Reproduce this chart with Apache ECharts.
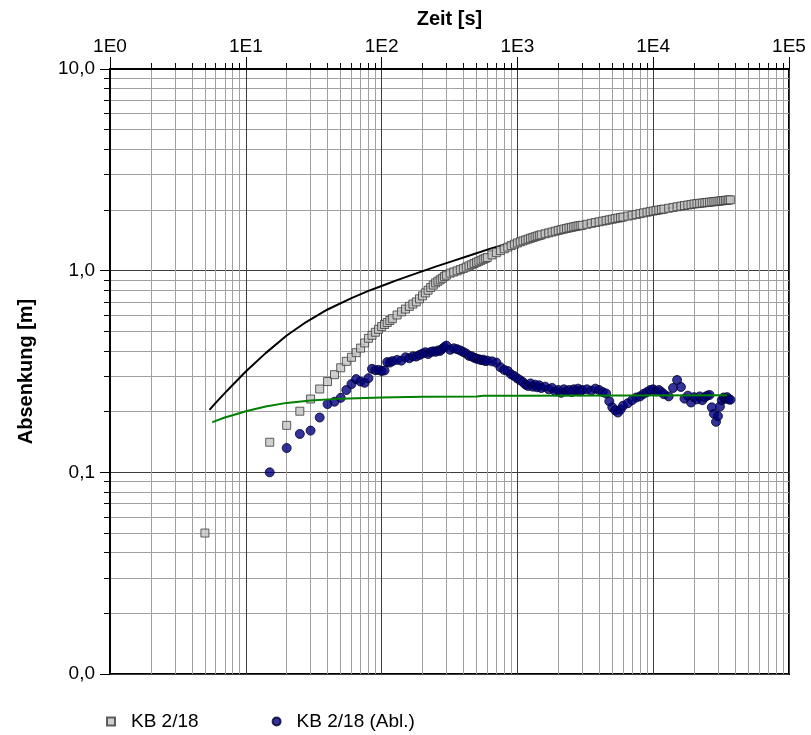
<!DOCTYPE html>
<html>
<head>
<meta charset="utf-8">
<script src="https://cdn.jsdelivr.net/npm/echarts@6/dist/echarts.min.js"></script>
<style>
  html, body { margin: 0; padding: 0; background: #fff; }
  #chart { width: 811px; height: 735px; }
</style>
</head>
<body>
<div id="chart"></div>
<script>
// Zeit [s] der Messpunkte
const times = [5,
  15, 20, 25, 30, 35, 40, 45, 50, 55, 60, 65, 70, 75, 80, 85, 90, 95, 100, 105, 110, 115, 120,
  130, 140, 150, 160, 170, 180, 190, 200, 210, 220, 230, 240, 250, 260, 270, 280, 290, 300,
  320, 340, 360, 380, 400, 420, 440, 460, 480, 500, 520, 540, 560, 580, 600,
  650, 700, 750, 800, 850, 900, 950, 1000, 1050, 1100, 1150, 1200, 1250, 1300, 1350, 1400, 1450, 1500,
  1600, 1700, 1800, 1900, 2000, 2100, 2200, 2300, 2400, 2500, 2600, 2700, 2800, 2900, 3000,
  3250, 3500, 3750, 4000, 4250, 4500, 4750, 5000, 5250, 5500, 5750, 6000,
  6500, 7000, 7500, 8000, 8500, 9000, 9500, 10000, 10500, 11000, 11500, 12000,
  13000, 14000, 15000, 16000, 17000, 18000, 19000, 20000, 21000, 22000, 23000, 24000, 25000,
  26000, 27000, 28000, 29000, 30000, 31000, 32000, 33000, 34000, 35000, 36000, 37000]

// Absenkung [m] KB 2/18
const drawdown = [0.050,
  0.141, 0.171, 0.201, 0.231, 0.259, 0.282, 0.305, 0.330, 0.355, 0.372, 0.392, 0.413, 0.438, 0.462, 0.478, 0.495, 0.512, 0.528, 0.541, 0.553, 0.566, 0.578,
  0.603, 0.625, 0.645, 0.665, 0.683, 0.700, 0.725, 0.750, 0.776, 0.800, 0.825, 0.848, 0.870, 0.886, 0.901, 0.917, 0.935, 0.950,
  0.972, 0.985, 0.998, 1.012, 1.026, 1.041, 1.056, 1.071, 1.086, 1.100, 1.113, 1.126, 1.139, 1.151, 1.163,
  1.197, 1.228, 1.257, 1.284, 1.309, 1.332, 1.353, 1.372, 1.390, 1.406, 1.421, 1.435, 1.448, 1.461, 1.473, 1.485, 1.496, 1.506,
  1.524, 1.540, 1.555, 1.570, 1.584, 1.597, 1.609, 1.620, 1.631, 1.641, 1.650, 1.659, 1.667, 1.674, 1.680,
  1.698, 1.716, 1.732, 1.747, 1.761, 1.775, 1.788, 1.800, 1.812, 1.823, 1.834, 1.845,
  1.865, 1.884, 1.901, 1.918, 1.934, 1.949, 1.963, 1.976, 1.988, 1.999, 2.010, 2.020,
  2.040, 2.058, 2.075, 2.090, 2.104, 2.117, 2.130, 2.142, 2.150, 2.158, 2.166, 2.173, 2.180,
  2.186, 2.192, 2.198, 2.204, 2.210, 2.215, 2.221, 2.226, 2.231, 2.236, 2.241, 2.246]

// Ableitung, ab t = 15 s
const derivTimes = times.slice(1)
const derivative = [
  0.100, 0.132, 0.155, 0.161, 0.187, 0.218, 0.224, 0.234, 0.256, 0.274, 0.290, 0.282, 0.278, 0.293, 0.326, 0.321, 0.322, 0.318, 0.320, 0.352, 0.350, 0.356,
  0.361, 0.358, 0.372, 0.368, 0.376, 0.375, 0.382, 0.388, 0.394, 0.386, 0.395, 0.398, 0.396, 0.402, 0.400, 0.410, 0.418, 0.425,
  0.405, 0.412, 0.408, 0.402, 0.395, 0.388, 0.378, 0.376, 0.370, 0.366, 0.364, 0.360, 0.362, 0.356, 0.358,
  0.355, 0.350, 0.332, 0.322, 0.318, 0.306, 0.300, 0.292, 0.286, 0.280, 0.272, 0.268, 0.276, 0.266, 0.272, 0.264, 0.270, 0.262,
  0.266, 0.258, 0.262, 0.252, 0.256, 0.248, 0.258, 0.252, 0.256, 0.250, 0.258, 0.254, 0.260, 0.252, 0.256,
  0.258, 0.254, 0.260, 0.256, 0.250, 0.246, 0.225, 0.210, 0.203, 0.198, 0.205, 0.214,
  0.220, 0.228, 0.235, 0.238, 0.245, 0.250, 0.256, 0.258, 0.252, 0.256, 0.250, 0.244,
  0.238, 0.262, 0.287, 0.265, 0.232, 0.240, 0.222, 0.236, 0.230, 0.238, 0.228, 0.236, 0.240,
  0.242, 0.210, 0.195, 0.178, 0.190, 0.212, 0.228, 0.235, 0.232, 0.236, 0.230, 0.229]

// angepasste Typkurve (schwarz)
const fitTimes = [5.4, 6, 7, 8, 10, 14, 20, 28, 40, 60, 80, 100, 130, 180, 250, 320, 450, 650,
  1000, 1500, 2000, 3000, 5000, 7000, 10000, 15000, 20000, 30000, 37000]
const fitValues = [0.204, 0.221, 0.247, 0.271, 0.316, 0.390, 0.477, 0.558, 0.642, 0.731, 0.794, 0.839, 0.898, 0.969, 1.047, 1.106, 1.192, 1.293,
  1.405, 1.520, 1.600, 1.690, 1.810, 1.890, 1.980, 2.080, 2.150, 2.220, 2.250]

// Ableitung der Typkurve (gruen)
const derivFitTimes = [5.66, 6, 7, 8, 10, 14, 20, 30, 50, 100, 200, 500, 560, 1000, 35000]
const derivFitValues = [0.177, 0.180, 0.187, 0.192, 0.201, 0.212, 0.221, 0.227, 0.232, 0.235, 0.237, 0.238, 0.240, 0.240, 0.241]

const xMajor = [1, 10, 100, 1000, 10000, 100000]
const yMajor = [0.01, 0.1, 1, 10]
const minorSteps = [2, 3, 4, 5, 6, 7, 8, 9]

const xMinor = xMajor.slice(0, -1).flatMap(d => minorSteps.map(k => k * d))
const yMinor = yMajor.slice(0, -1).flatMap(d => minorSteps.map(k => +(k * d).toPrecision(3)))

const FONT = '"Liberation Sans", Arial, sans-serif'

const chart = echarts.init(document.getElementById('chart'))

const minorAxis = (position, values, extra) => Object.assign({
  type: 'log',
  logBase: 10,
  position,
  axisLine: { show: false },
  axisTick: { show: true, customValues: values, length: 6, lineStyle: { color: '#000', width: 1 } },
  axisLabel: { show: false },
  splitLine: { show: true, lineStyle: { color: '#a0a0a0', width: 1 } }
}, extra)

const option = {
  animation: false,
  backgroundColor: '#fff',
  grid: {
    left: 110, right: 22, top: 69, bottom: 61,
    show: true, borderColor: '#000', borderWidth: 2,
    outerBoundsMode: 'none'
  },
  legend: {
    left: 101,
    top: 707,
    itemWidth: 8,
    itemHeight: 8,
    itemGap: 73,
    data: ['KB 2/18', 'KB 2/18 (Abl.)'],
    textStyle: { fontFamily: FONT, fontSize: 19, color: '#000', padding: [0, 0, 0, 11] }
  },
  xAxis: [
    minorAxis('top', xMinor, { min: 1, max: 100000 }),
    {
      type: 'log',
      logBase: 10,
      min: 1,
      max: 100000,
      position: 'top',
      name: 'Zeit [s]',
      nameLocation: 'middle',
      nameGap: 40,
      nameTextStyle: { fontFamily: FONT, fontSize: 20, fontWeight: 'bold', color: '#000' },
      axisLine: { show: true, lineStyle: { color: '#000', width: 2 } },
      axisTick: { show: true, customValues: xMajor, length: 12, lineStyle: { color: '#000', width: 1 } },
      axisLabel: {
        customValues: xMajor,
        margin: 13,
        fontFamily: FONT, fontSize: 19, color: '#000',
        formatter: v => '1E' + Math.round(Math.log10(v))
      },
      splitLine: { show: true, lineStyle: { color: '#3c3c3c', width: 1 } }
    }
  ],
  yAxis: [
    minorAxis('left', yMinor, { min: 0.01, max: 10 }),
    {
      type: 'log',
      logBase: 10,
      min: 0.01,
      max: 10,
      position: 'left',
      name: 'Absenkung [m]',
      nameLocation: 'middle',
      nameRotate: 90,
      nameGap: 74,
      nameTextStyle: { fontFamily: FONT, fontSize: 20, fontWeight: 'bold', color: '#000' },
      axisLine: { show: true, lineStyle: { color: '#000', width: 2 } },
      axisTick: { show: true, customValues: yMajor, length: 10, lineStyle: { color: '#000', width: 1 } },
      axisLabel: {
        customValues: yMajor,
        margin: 15,
        fontFamily: FONT, fontSize: 19, color: '#000',
        formatter: v => v.toFixed(1).replace('.', ',')
      },
      splitLine: { show: true, lineStyle: { color: '#3c3c3c', width: 1 } }
    }
  ],
  series: [
    {
      name: 'Typkurve',
      type: 'line',
      xAxisIndex: 1, yAxisIndex: 1,
      showSymbol: false,
      lineStyle: { color: '#000', width: 2 },
      data: fitTimes.map((t, i) => [t, fitValues[i]]),
      z: 2
    },
    {
      name: 'KB 2/18',
      type: 'scatter',
      xAxisIndex: 1, yAxisIndex: 1,
      symbol: 'rect',
      symbolSize: 8,
      itemStyle: { color: '#c4c4c4', borderColor: '#3a3a3a', borderWidth: 1 },
      data: times.map((t, i) => [t, drawdown[i]]),
      z: 3
    },
    {
      name: 'KB 2/18 (Abl.)',
      type: 'scatter',
      xAxisIndex: 1, yAxisIndex: 1,
      symbol: 'circle',
      symbolSize: 9,
      itemStyle: { color: '#000080', borderColor: '#00002a', borderWidth: 1 },
      data: derivTimes.map((t, i) => [t, derivative[i]]),
      z: 4
    },
    {
      name: 'Typkurve (Abl.)',
      type: 'line',
      xAxisIndex: 1, yAxisIndex: 1,
      showSymbol: false,
      lineStyle: { color: '#008000', width: 2 },
      data: derivFitTimes.map((t, i) => [t, derivFitValues[i]]),
      z: 5
    }
  ]
}

chart.setOption(option)
</script>
</body>
</html>
